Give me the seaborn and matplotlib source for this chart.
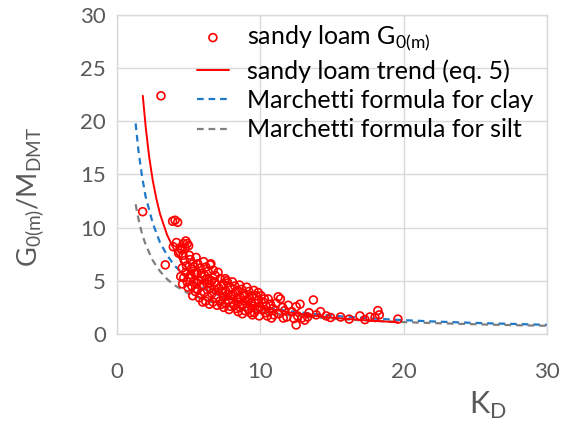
import matplotlib
matplotlib.use("Agg")
import matplotlib.pyplot as plt
import seaborn as sns
import pandas as pd

# ---- data ----
scatter_kd = [
    3.07, 1.79, 3.88, 4.05, 4.23, 3.37, 4.80, 4.90, 5.00, 3.93, 4.50, 4.30, 4.15, 4.63, 4.40,
    4.52, 4.61, 4.70, 4.55, 4.80, 4.66, 4.90, 4.45, 4.58, 4.95, 4.85, 4.75,
    5.05, 5.12, 5.30, 5.18, 5.42, 5.08, 5.35, 5.22, 5.46, 5.28, 5.40, 5.15,
    5.52, 5.64, 5.80, 5.58, 5.90, 5.70, 5.95, 5.62, 5.85, 5.75, 5.98, 5.55, 5.88,
    6.05, 6.20, 6.35, 6.12, 6.42, 6.28, 6.48, 6.08, 6.32, 6.18, 6.45, 6.25, 6.50,
    6.55, 6.72, 6.85, 6.60, 6.95, 6.78, 6.62, 6.90, 6.70, 6.98, 6.82,
    7.05, 7.22, 7.40, 7.12, 7.35, 7.48, 7.18, 7.30, 7.45, 7.28,
    7.55, 7.65, 7.72, 7.88, 7.60, 7.95, 7.78, 7.58, 7.92, 7.82, 7.70,
    8.05, 8.22, 8.40, 8.12, 8.35, 8.48, 8.18, 8.30, 8.45, 8.28,
    8.55, 8.70, 8.88, 8.62, 8.95, 8.78, 8.58, 8.92, 8.75, 8.85,
    9.05, 9.20, 9.42, 9.12, 9.35, 9.48, 9.18, 9.30, 9.45, 9.25,
    9.55, 9.70, 9.88, 9.62, 9.95, 9.78, 9.58, 9.92, 9.85,
    10.05, 10.22, 10.40, 10.12, 10.35, 10.48, 10.28,
    10.55, 10.70, 10.88, 10.62, 10.95, 10.78,
    11.25, 11.40, 11.10, 11.55, 11.70, 11.30, 11.85, 11.60, 11.95,
    12.77, 12.50, 12.20, 12.60, 12.90, 12.50, 13.10, 12.35,
    13.70, 13.40, 13.90, 13.30, 14.20, 14.60, 14.90,
    15.60, 16.95, 17.65, 18.20, 18.30, 18.00, 19.60, 16.20, 17.30,
]
scatter_g = [
    22.4, 11.5, 10.6, 10.7, 10.5, 6.5, 8.75, 8.5, 8.3, 8.2, 8.05, 7.6, 8.6, 8.5, 8.1,
    7.9, 7.4, 6.9, 6.2, 5.8, 5.3, 4.9, 5.4, 4.7, 4.4, 6.4, 8.1,
    7.4, 7.0, 6.6, 6.1, 5.7, 5.3, 4.9, 4.5, 4.0, 3.6, 6.3, 5.6,
    7.2, 6.6, 6.2, 5.8, 5.4, 5.0, 4.6, 4.2, 3.8, 3.4, 3.0, 4.8, 5.7,
    6.8, 6.3, 5.9, 5.5, 5.1, 4.7, 4.3, 3.9, 3.5, 3.1, 2.8, 5.2, 6.5,
    6.6, 6.0, 5.5, 5.0, 4.6, 4.2, 3.8, 3.4, 3.0, 2.7, 4.9,
    5.8, 5.2, 4.7, 4.3, 3.9, 3.5, 3.1, 2.8, 2.5, 4.5,
    5.2, 5.0, 4.8, 4.4, 4.0, 3.6, 3.2, 2.9, 2.6, 2.3, 3.7,
    4.9, 4.5, 4.1, 3.7, 3.3, 3.0, 2.7, 2.4, 2.1, 3.9,
    4.6, 4.2, 3.8, 3.4, 3.1, 2.8, 2.5, 2.2, 1.9, 3.6,
    4.4, 4.0, 3.6, 3.2, 2.9, 2.6, 2.3, 2.0, 1.8, 3.4,
    4.1, 3.6, 3.2, 2.9, 2.6, 2.3, 2.0, 1.7, 3.9,
    3.6, 3.0, 2.6, 2.3, 2.0, 1.7, 3.3,
    3.3, 2.8, 2.4, 2.1, 1.8, 1.5,
    3.5, 3.3, 2.9, 2.5, 2.2, 1.9, 1.6, 1.5, 2.7,
    2.8, 2.57, 2.1, 1.7, 1.5, 0.85, 1.3, 1.45,
    3.2, 2.0, 1.8, 1.6, 2.1, 1.7, 1.55,
    1.6, 1.7, 1.6, 2.2, 1.8, 1.55, 1.4, 1.4, 1.35,
]

trend_kd = [1.8, 2.0, 2.25, 2.5, 2.75, 3.0, 3.5, 4.0, 4.5, 5.0, 5.5, 6.0, 7.0, 8.0,
            9.0, 10.0, 11.0, 12.0, 13.0, 14.0, 15.0, 16.0, 17.0, 18.0, 19.0, 19.6]
trend_g = [22.4, 19.5, 16.6, 14.4, 12.7, 11.3, 9.3, 7.9, 6.8, 5.95, 5.3, 4.75, 3.95, 3.35,
           2.9, 2.55, 2.27, 2.03, 1.84, 1.68, 1.54, 1.42, 1.32, 1.23, 1.15, 1.1]

marchetti_kd = [1.3, 1.5, 1.75, 2.0, 2.5, 3.0, 3.5, 4.0, 5.0, 6.0, 7.0, 8.0, 9.0, 10.0,
                12.0, 14.0, 16.0, 18.0, 20.0, 22.0, 24.0, 26.0, 28.0, 30.0]
clay_g = [19.8, 17.2, 14.8, 12.9, 10.4, 8.6, 7.4, 6.45, 5.15, 4.3, 3.7, 3.25, 2.88, 2.6,
          2.15, 1.85, 1.62, 1.44, 1.3, 1.18, 1.08, 1.0, 0.93, 0.86]
silt_g = [12.2, 10.8, 9.4, 8.4, 6.9, 5.9, 5.15, 4.6, 3.8, 3.25, 2.83, 2.52, 2.28, 2.08,
          1.77, 1.54, 1.36, 1.23, 1.12, 1.03, 0.95, 0.88, 0.82, 0.77]

x_ticks = [0, 10, 20, 30]
y_ticks = [0, 5, 10, 15, 20, 25, 30]

labels = ["sandy loam G$_{\\mathregular{0(m)}}$", "sandy loam trend (eq. 5)",
          "Marchetti formula for clay", "Marchetti formula for silt"]

# ---- plotting ----
sns.set_theme(style="white")
plt.rcParams["font.family"] = ["Lato", "DejaVu Sans"]
plt.rcParams["mathtext.fontset"] = "custom"
plt.rcParams["mathtext.rm"] = "Lato"

fig = plt.figure(figsize=(5.66, 4.32), dpi=100)
ax = fig.add_axes([0.2067, 0.2269, 0.7597, 0.7384])

df_sc = pd.DataFrame({"kd": scatter_kd, "g": scatter_g})
df_tr = pd.DataFrame({"kd": trend_kd, "g": trend_g})
df_m = pd.DataFrame({"kd": marchetti_kd, "clay": clay_g, "silt": silt_g})

grid_c = "#d9d9d9"
red = "#ff0000"
blue = "#1f78c8"
gray = "#7f7f7f"

sns.scatterplot(data=df_sc, x="kd", y="g", ax=ax, marker="o", s=32,
                facecolor="none", edgecolor=red, linewidth=1.2, label=labels[0], zorder=3)
sns.lineplot(data=df_tr, x="kd", y="g", ax=ax, color=red, linewidth=1.4,
             sort=False, estimator=None, label=labels[1], zorder=4)
sns.lineplot(data=df_m, x="kd", y="clay", ax=ax, color=blue, linewidth=1.6,
             linestyle=(0, (3, 2.2)), sort=False, estimator=None, label=labels[2], zorder=2)
sns.lineplot(data=df_m, x="kd", y="silt", ax=ax, color=gray, linewidth=1.6,
             linestyle=(0, (3, 2.2)), sort=False, estimator=None, label=labels[3], zorder=2)

ax.set_xlim(0, 30)
ax.set_ylim(0, 30)
ax.set_xticks(x_ticks)
ax.set_yticks(y_ticks)
ax.grid(True, color=grid_c, linewidth=1.0)
ax.set_axisbelow(True)
for sp in ax.spines.values():
    sp.set_color(grid_c)
    sp.set_linewidth(1.0)
ax.tick_params(axis="both", length=0, labelsize=16, labelcolor="#595959", pad=8)
ax.tick_params(axis="x", pad=20)

ax.set_xlabel("")
ax.set_ylabel("")
fig.text(0.055, 0.544, "G$_{\\mathregular{0(m)}}$/M$_{\\mathregular{DMT}}$", rotation=90,
         fontsize=19.5, color="#595959", ha="center", va="center")
fig.text(0.862, 0.062, "K$_{\\mathregular{D}}$", fontsize=22, color="#595959",
         ha="center", va="center")

leg = ax.legend(loc="upper left", bbox_to_anchor=(0.162, 1.005), frameon=False,
                fontsize=18, handlelength=1.3, handletextpad=0.7, labelspacing=0.25,
                borderaxespad=0.0)
for t in leg.get_texts():
    t.set_color("#000000")

fig.savefig("out.png", dpi=100)
